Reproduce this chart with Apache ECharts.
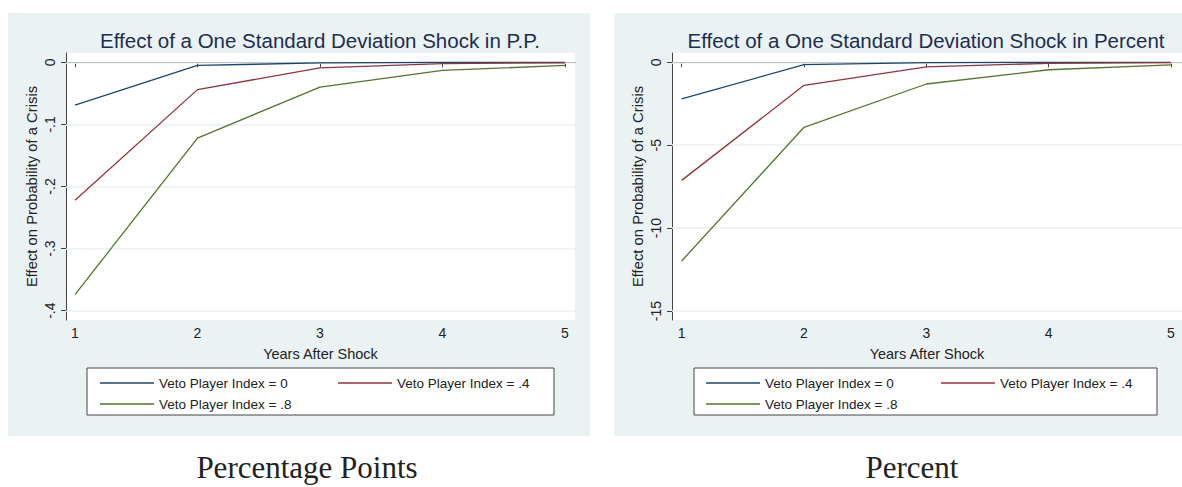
<!DOCTYPE html>
<html>
<head>
<meta charset="utf-8">
<script src="https://cdn.jsdelivr.net/npm/echarts@6/dist/echarts.min.js"></script>
<style>html,body{margin:0;padding:0;background:#fff}#c{width:1182px;height:487px}</style>
</head>
<body>
<div id="c"></div>
<script>
const years = [1, 2, 3, 4, 5];
const seriesNames = ['Veto Player Index = 0', 'Veto Player Index = .4', 'Veto Player Index = .8'];
const ppVeto0 = [-0.069, -0.005, -0.001, 0, 0];
const ppVeto4 = [-0.222, -0.044, -0.009, -0.002, -0.001];
const ppVeto8 = [-0.374, -0.122, -0.040, -0.013, -0.005];
const pctVeto0 = [-2.21, -0.14, -0.02, 0, 0];
const pctVeto4 = [-7.12, -1.39, -0.28, -0.06, -0.02];
const pctVeto8 = [-11.98, -3.92, -1.31, -0.45, -0.16];
const ppTicks = [0, -0.1, -0.2, -0.3, -0.4];
const pctTicks = [0, -5, -10, -15];
const titles = ['Effect of a One Standard Deviation Shock in P.P.', 'Effect of a One Standard Deviation Shock in Percent'];
const captions = ['Percentage Points', 'Percent'];
const yTitle = 'Effect on Probability of a Crisis';
const xTitle = 'Years After Shock';

const colors = ['#1a476f', '#90353b', '#55752f'];
const BG = '#eaf2f3';
const FONT = '"Liberation Sans", Arial, sans-serif';

function fmt(v) {
  if (v === 0) return '0';
  return String(v).replace('0.', '.');
}
function pairs(ys) { return years.map((x, i) => [x, ys[i]]); }

const chart = echarts.init(document.getElementById('c'), null, {renderer: 'svg'});

function xAx(gi, min, max) {
  return {
    gridIndex: gi, type: 'value', min: min, max: max,
    name: xTitle, nameLocation: 'middle', nameGap: 26,
    nameTextStyle: {fontFamily: FONT, fontSize: 14.5, color: '#222'},
    axisLine: {show: true, lineStyle: {color: '#444', width: 1}},
    axisTick: {show: true, length: 5, customValues: years, lineStyle: {color: '#444'}},
    axisLabel: {customValues: years, fontFamily: FONT, fontSize: 14, color: '#222', margin: 6},
    splitLine: {show: false}
  };
}
function yAx(gi, min, max, ticks) {
  return {
    gridIndex: gi, type: 'value', min: min, max: max,
    name: yTitle, nameLocation: 'middle', nameGap: 27,
    nameTextStyle: {fontFamily: FONT, fontSize: 14.8, color: '#222'},
    axisLine: {show: true, lineStyle: {color: '#444', width: 1}},
    axisTick: {show: true, length: 5, customValues: ticks, lineStyle: {color: '#444'}},
    axisLabel: {customValues: ticks, rotate: 90, formatter: fmt, fontFamily: FONT, fontSize: 14, color: '#222', margin: 9},
    splitLine: {show: false}
  };
}
function lineSeries(gi, name, data, ci) {
  return {
    type: 'line', name: name, xAxisIndex: gi, yAxisIndex: gi, data: pairs(data),
    showSymbol: false, symbol: 'none', smooth: false, z: 20,
    lineStyle: {color: colors[ci], width: 1.3}, itemStyle: {color: colors[ci]}
  };
}
function gridSeries(gi, ticks) {
  return {
    type: 'line', name: 'grid' + gi, xAxisIndex: gi, yAxisIndex: gi, data: [], silent: true, z: 1,
    markLine: {silent: true, symbol: 'none', label: {show: false}, animation: false, z: 1,
      lineStyle: {color: BG, width: 1.5, type: 'solid'},
      data: ticks.map(t => ({yAxis: t}))}
  };
}

const legendPos = [
  [95, 382], [333, 382], [95, 403],
  [701, 382], [936, 382], [701, 403]
];
const legends = legendPos.map((p, i) => ({
  data: [seriesNames[i % 3]],
  left: p[0], top: p[1] - 11,
  icon: 'rect', itemWidth: 54, itemHeight: 1.3, itemGap: 0,
  selectedMode: false,
  textStyle: {fontFamily: FONT, fontSize: 13.5, color: '#222'}
}));

const option = {
  animation: false,
  backgroundColor: '#ffffff',
  grid: [
    {left: 66, top: 53, width: 509, height: 267, show: true, backgroundColor: '#ffffff', borderWidth: 0, containLabel: false},
    {left: 672, top: 53, width: 510, height: 267, show: true, backgroundColor: '#ffffff', borderWidth: 0, containLabel: false}
  ],
  xAxis: [xAx(0, 0.9265, 5.082), xAx(1, 0.921, 5.09)],
  yAxis: [yAx(0, -0.415, 0.015, ppTicks), yAx(1, -15.54, 0.56, pctTicks)],
  legend: legends,
  graphic: [
    {type: 'rect', z: -100, silent: true, shape: {x: 8, y: 13, width: 582, height: 423}, style: {fill: BG}},
    {type: 'rect', z: -100, silent: true, shape: {x: 614, y: 13, width: 568, height: 423}, style: {fill: BG}},
    {type: 'rect', z: 2, silent: true, shape: {x: 87, y: 368, width: 467, height: 47}, style: {fill: '#fff', stroke: '#444', lineWidth: 1}},
    {type: 'rect', z: 2, silent: true, shape: {x: 694, y: 368, width: 463, height: 47}, style: {fill: '#fff', stroke: '#444', lineWidth: 1}},
    {type: 'text', z: 5, x: 320, y: 40, style: {text: titles[0], font: '20.5px ' + FONT, fill: '#1c2d52', textAlign: 'center', textVerticalAlign: 'middle'}},
    {type: 'text', z: 5, x: 926, y: 40, style: {text: titles[1], font: '20.5px ' + FONT, fill: '#1c2d52', textAlign: 'center', textVerticalAlign: 'middle'}},
    {type: 'text', z: 5, x: 307, y: 467, style: {text: captions[0], font: '31px "Liberation Serif", "DejaVu Serif", serif', fill: '#222', textAlign: 'center', textVerticalAlign: 'middle'}},
    {type: 'text', z: 5, x: 912, y: 467, style: {text: captions[1], font: '31px "Liberation Serif", "DejaVu Serif", serif', fill: '#222', textAlign: 'center', textVerticalAlign: 'middle'}}
  ],
  series: [
    gridSeries(0, ppTicks),
    gridSeries(1, pctTicks),
    lineSeries(0, seriesNames[0], ppVeto0, 0),
    lineSeries(0, seriesNames[1], ppVeto4, 1),
    lineSeries(0, seriesNames[2], ppVeto8, 2),
    lineSeries(1, seriesNames[0], pctVeto0, 0),
    lineSeries(1, seriesNames[1], pctVeto4, 1),
    lineSeries(1, seriesNames[2], pctVeto8, 2)
  ]
};
chart.setOption(option);
</script>
</body>
</html>
